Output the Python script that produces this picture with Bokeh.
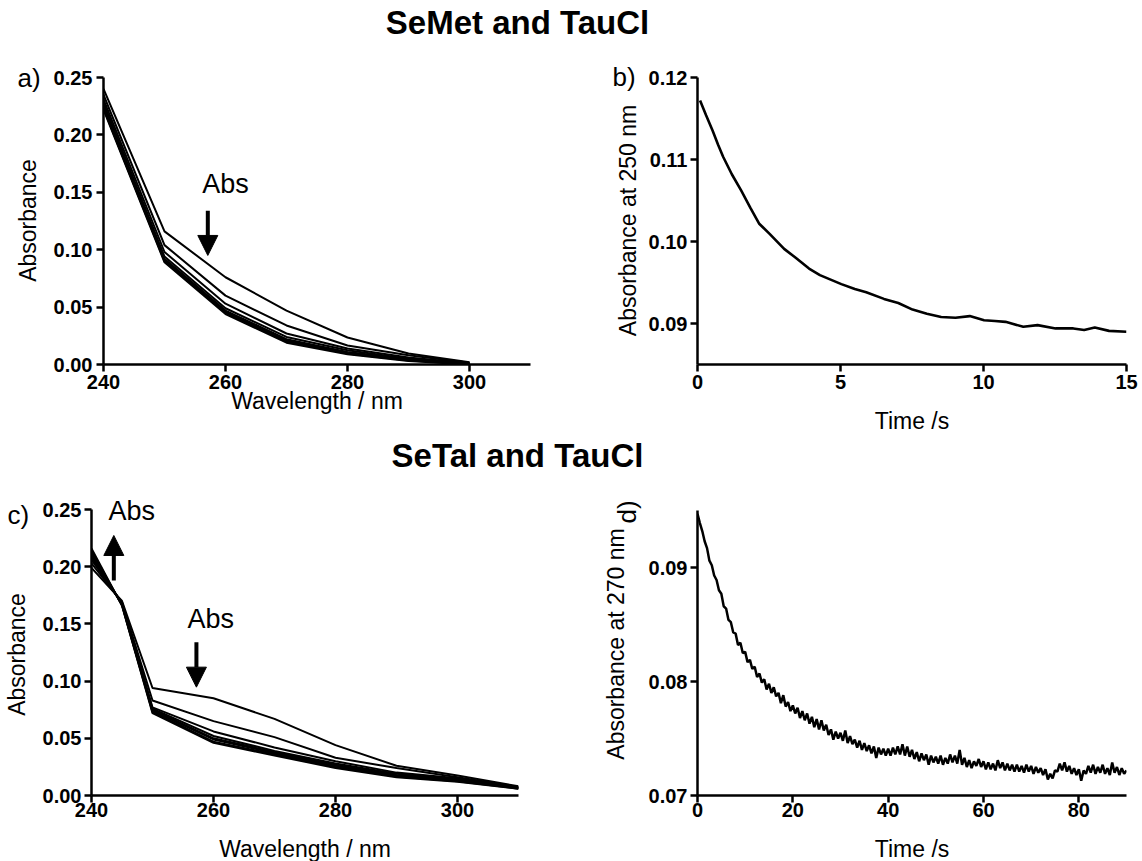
import math
from bokeh.plotting import figure
from bokeh.layouts import column, row
from bokeh.models import Range1d, FixedTicker, NumeralTickFormatter, Label, Arrow, NormalHead
from bokeh.embed import file_html
from bokeh.resources import INLINE
from bokeh.core.properties import value

FONT = "Liberation Sans"

# ---------------- data ----------------
title_top = "SeMet and TauCl"
title_bottom = "SeTal and TauCl"

# panel a: SeMet + TauCl spectra
wl_a = [240, 250, 260, 270, 280, 290, 300]
spec_a1 = [0.240, 0.116, 0.076, 0.047, 0.0235, 0.0096, 0.0020]
spec_a2 = [0.235, 0.104, 0.060, 0.034, 0.0165, 0.0080, 0.0015]
spec_a3 = [0.231, 0.098, 0.053, 0.027, 0.0140, 0.0060, 0.0010]
spec_a4 = [0.228, 0.094, 0.049, 0.024, 0.0125, 0.0050, 0.0010]
spec_a5 = [0.226, 0.092, 0.047, 0.022, 0.0110, 0.0045, 0.0008]
spec_a6 = [0.224, 0.091, 0.046, 0.021, 0.0100, 0.0040, 0.0005]
spec_a7 = [0.223, 0.090, 0.045, 0.020, 0.0095, 0.0035, 0.0003]
spec_a8 = [0.222, 0.089, 0.044, 0.019, 0.0090, 0.0030, 0.0000]
spectra_a = [spec_a1, spec_a2, spec_a3, spec_a4, spec_a5, spec_a6, spec_a7, spec_a8]

# panel b: absorbance at 250 nm vs time
t_b = [0.09, 0.30, 0.53, 0.72, 0.90, 1.20, 1.53, 1.85, 2.15, 2.53, 3.03, 3.40, 3.90,
       4.28, 5.03, 5.50, 5.90, 6.52, 7.02, 7.52, 8.02, 8.52, 9.02, 9.52, 10.02, 10.40,
       10.77, 11.39, 11.89, 12.52, 13.14, 13.52, 13.89, 14.39, 15.00]
abs_b = [0.1172, 0.1154, 0.1135, 0.1118, 0.1103, 0.1082, 0.1062, 0.1041, 0.1022, 0.1009,
         0.0991, 0.0981, 0.0967, 0.0959, 0.0948, 0.0942, 0.0938, 0.0930, 0.0925, 0.0917,
         0.0912, 0.0908, 0.0907, 0.0909, 0.0904, 0.0903, 0.0902, 0.0896, 0.0898, 0.0894,
         0.0894, 0.0892, 0.0895, 0.0891, 0.0890]

# panel c: SeTal + TauCl spectra
wl_c = [240, 245, 250, 260, 270, 280, 290, 300, 310]
spec_c1 = [0.199, 0.170, 0.094, 0.085, 0.067, 0.044, 0.026, 0.0175, 0.0080]
spec_c2 = [0.203, 0.169, 0.083, 0.065, 0.051, 0.033, 0.024, 0.0160, 0.0075]
spec_c3 = [0.206, 0.168, 0.077, 0.056, 0.042, 0.030, 0.020, 0.0150, 0.0070]
spec_c4 = [0.208, 0.168, 0.076, 0.052, 0.039, 0.028, 0.019, 0.0140, 0.0070]
spec_c5 = [0.210, 0.167, 0.075, 0.050, 0.038, 0.027, 0.018, 0.0135, 0.0065]
spec_c6 = [0.212, 0.167, 0.074, 0.049, 0.037, 0.026, 0.017, 0.0130, 0.0065]
spec_c7 = [0.214, 0.166, 0.073, 0.047, 0.036, 0.025, 0.0165, 0.0125, 0.0060]
spec_c8 = [0.216, 0.166, 0.072, 0.046, 0.035, 0.024, 0.016, 0.0120, 0.0060]
spectra_c = [spec_c1, spec_c2, spec_c3, spec_c4, spec_c5, spec_c6, spec_c7, spec_c8]

# panel d: absorbance at 270 nm, sampled every 0.5 s from 0 to 90 s
abs_d = [
    0.0947, 0.0939, 0.0932, 0.0923, 0.0917, 0.0906, 0.0902, 0.0893, 0.0889, 0.0880,
    0.0877, 0.0866, 0.0864, 0.0854, 0.0852, 0.0843, 0.0842, 0.0832, 0.0834, 0.0825,
    0.0826, 0.0817, 0.0819, 0.0811, 0.0813, 0.0804, 0.0807, 0.0799, 0.0802, 0.0793,
    0.0798, 0.0790, 0.0795, 0.0787, 0.0790, 0.0781, 0.0788, 0.0778, 0.0782, 0.0774,
    0.0779, 0.0772, 0.0777, 0.0768, 0.0774, 0.0766, 0.0772, 0.0763, 0.0769, 0.0760,
    0.0767, 0.0758, 0.0766, 0.0757, 0.0762, 0.0753, 0.0758, 0.0749, 0.0756, 0.0750,
    0.0755, 0.0748, 0.0757, 0.0746, 0.0752, 0.0745, 0.0749, 0.0742, 0.0748, 0.0740,
    0.0746, 0.0739, 0.0744, 0.0737, 0.0743, 0.0733, 0.0742, 0.0736, 0.0741, 0.0735,
    0.0741, 0.0735, 0.0742, 0.0736, 0.0743, 0.0736, 0.0745, 0.0735, 0.0743, 0.0734,
    0.0740, 0.0732, 0.0738, 0.0730, 0.0737, 0.0731, 0.0736, 0.0727, 0.0735, 0.0729,
    0.0734, 0.0728, 0.0735, 0.0727, 0.0733, 0.0728, 0.0736, 0.0729, 0.0735, 0.0728,
    0.0740, 0.0727, 0.0733, 0.0725, 0.0731, 0.0724, 0.0730, 0.0726, 0.0732, 0.0725,
    0.0730, 0.0723, 0.0729, 0.0723, 0.0728, 0.0722, 0.0731, 0.0724, 0.0729, 0.0722,
    0.0728, 0.0722, 0.0727, 0.0721, 0.0727, 0.0721, 0.0726, 0.0720, 0.0727, 0.0721,
    0.0726, 0.0719, 0.0725, 0.0720, 0.0724, 0.0718, 0.0723, 0.0714, 0.0719, 0.0715,
    0.0722, 0.0721, 0.0728, 0.0722, 0.0729, 0.0721, 0.0726, 0.0719, 0.0724, 0.0718,
    0.0723, 0.0713, 0.0722, 0.0719, 0.0726, 0.0720, 0.0727, 0.0719, 0.0725, 0.0720,
    0.0727, 0.0719, 0.0724, 0.0718, 0.0729, 0.0720, 0.0725, 0.0718, 0.0724, 0.0719,
    0.0722,
]
DT_D = 0.5
t_d = [i * DT_D for i in range(len(abs_d))]

ticks_wl = [240, 260, 280, 300]
ticks_abs = [0.00, 0.05, 0.10, 0.15, 0.20, 0.25]
ticks_tb = [0, 5, 10, 15]
ticks_ab = [0.09, 0.10, 0.11, 0.12]
ticks_td = [0, 20, 40, 60, 80]
ticks_ad = [0.07, 0.08, 0.09]

label_a = "a)"
label_b = "b)"
label_c = "c)"
label_d = "d)"
ylab_spec = "Absorbance"
ylab_b = "Absorbance at 250 nm"
ylab_d = "Absorbance at 270 nm"
xlab_wl = "Wavelength / nm"
xlab_t = "Time /s"


# ---------------- helpers ----------------
def style(p, lstand, bstand, blab_stand):
    p.outline_line_color = None
    p.background_fill_color = "white"
    p.border_fill_color = "white"
    p.xgrid.visible = False
    p.ygrid.visible = False
    for ax in p.axis:
        ax.axis_line_width = 2.5
        ax.axis_line_color = "black"
        ax.major_tick_line_width = 2.5
        ax.major_tick_line_color = "black"
        ax.major_tick_out = 7
        ax.major_tick_in = 0
        ax.minor_tick_line_color = None
        ax.major_label_text_font = FONT
        ax.major_label_text_font_style = "bold"
        ax.major_label_text_font_size = "20px"
        ax.major_label_text_color = "black"
        ax.axis_label_text_font = FONT
        ax.axis_label_text_font_style = "normal"
        ax.axis_label_text_font_size = "23px"
        ax.axis_label_text_color = "black"
    p.yaxis.major_label_standoff = lstand
    p.xaxis.major_label_standoff = bstand
    p.xaxis.axis_label_standoff = blab_stand


def abs_label(p, x, y, s):
    p.add_layout(Label(x=x, y=y, text=s, text_font=FONT, text_font_size="27px",
                       text_align="left", text_baseline="middle", text_color="black"))


def arrow(p, x, y0, y1):
    p.add_layout(Arrow(end=NormalHead(size=20, fill_color="black", line_color="black"),
                       x_start=x, y_start=y0, x_end=x, y_end=y1,
                       line_width=4, line_color="black"))


def strip(w, h):
    s = figure(width=w, height=h, x_range=Range1d(0, w), y_range=Range1d(0, h),
               x_axis_type=None, y_axis_type=None, min_border=0, frame_align=False,
               toolbar_location=None, output_backend="svg")
    s.outline_line_color = None
    s.grid.visible = False
    return s


def put(s, x, y_from_top, text, size, style_="normal", align="left", angle=0.0):
    h = s.height
    s.text(x=[x], y=[h - y_from_top], text=[text], text_align=align, text_baseline="middle",
           text_font=value(FONT), text_font_style=style_, text_font_size=size,
           text_color="black", angle=angle)


ROW1_TOP = 55
ROW1_H = 383
T2_H = 40
ROW2_TOP = ROW1_TOP + ROW1_H + T2_H  # 478
ROW2_H = 350
BOT_TOP = ROW2_TOP + ROW2_H  # 828
BOT_H = 861 - BOT_TOP

# ---------------- titles ----------------
t1 = strip(1142, ROW1_TOP)
put(t1, 517, 22, title_top, "33px", "bold", "center")
t2 = strip(1142, T2_H)
put(t2, 517, 17, title_bottom, "33px", "bold", "center")

# ---------------- panel a ----------------
sa = strip(48, ROW1_H)
put(sa, 17, 77 - ROW1_TOP, label_a, "26px")
put(sa, 27.5, 220 - ROW1_TOP, ylab_spec, "23px", align="center", angle=math.pi / 2)

pa = figure(width=552, height=ROW1_H, x_range=Range1d(240, 310), y_range=Range1d(0, 0.25),
            min_border_left=55, min_border_right=70, min_border_top=22,
            min_border_bottom=ROW1_H - 22 - 287, frame_align=False,
            toolbar_location=None, output_backend="svg")
for s in spectra_a:
    pa.line(wl_a, s, line_color="black", line_width=2)
pa.xaxis.ticker = FixedTicker(ticks=ticks_wl)
pa.yaxis.ticker = FixedTicker(ticks=ticks_abs)
pa.yaxis.formatter = NumeralTickFormatter(format="0.00")
pa.xaxis.axis_label = xlab_wl
style(pa, 4, 3, -4)
abs_label(pa, 256.2, 0.1572, "Abs")
arrow(pa, 257.1, 0.134, 0.095)

# ---------------- panel b ----------------
sb = strip(44, ROW1_H)
put(sb, 12, 76 - ROW1_TOP, label_b, "26px")
put(sb, 27, 220 - ROW1_TOP, ylab_b, "23px", align="center", angle=math.pi / 2)

pb = figure(width=498, height=ROW1_H, x_range=Range1d(0, 15), y_range=Range1d(0.085, 0.12),
            min_border_left=53, min_border_right=16, min_border_top=22,
            min_border_bottom=ROW1_H - 22 - 287, frame_align=False,
            toolbar_location=None, output_backend="svg")
pb.line(t_b, abs_b, line_color="black", line_width=2.6)
pb.xaxis.ticker = FixedTicker(ticks=ticks_tb)
pb.yaxis.ticker = FixedTicker(ticks=ticks_ab)
pb.yaxis.formatter = NumeralTickFormatter(format="0.00")
pb.xaxis.axis_label = xlab_t
style(pb, 3, 3, 16)

# ---------------- panel c ----------------
sc = strip(36, ROW2_H)
put(sc, 7, 514 - ROW2_TOP, label_c, "26px")
put(sc, 16.5, 654 - ROW2_TOP, ylab_spec, "23px", align="center", angle=math.pi / 2)

# frame reaches the top of the row so the "Abs" above 0.25 is not clipped;
# the y axis itself is bounded to 0 .. 0.25
C_FRAME_TOP, C_TICK_TOP, C_FRAME_BOTTOM = 478, 509, 795
c_ymax = 0.25 * (C_FRAME_BOTTOM - C_FRAME_TOP) / (C_FRAME_BOTTOM - C_TICK_TOP)
pc = figure(width=564, height=ROW2_H, x_range=Range1d(240, 310), y_range=Range1d(0, c_ymax),
            min_border_left=55, min_border_right=82, min_border_top=C_FRAME_TOP - ROW2_TOP,
            min_border_bottom=33, frame_align=False, toolbar_location=None,
            output_backend="svg")
for s in spectra_c:
    pc.line(wl_c, s, line_color="black", line_width=2)
pc.xaxis.ticker = FixedTicker(ticks=ticks_wl)
pc.yaxis.ticker = FixedTicker(ticks=ticks_abs)
pc.yaxis.formatter = NumeralTickFormatter(format="0.00")
pc.yaxis.bounds = (0, 0.25)
style(pc, 3, 0, 0)
abs_label(pc, 242.8, 0.2487, "Abs")
arrow(pc, 243.66, 0.188, 0.2273)
abs_label(pc, 255.74, 0.1543, "Abs")
arrow(pc, 257.2, 0.134, 0.0947)

# ---------------- panel d ----------------
sd = strip(44, ROW2_H)
put(sd, 26.5, 523 - ROW2_TOP, label_d, "26px", angle=math.pi / 2)
put(sd, 15.5, 643.5 - ROW2_TOP, ylab_d, "23px", align="center", angle=math.pi / 2)

pd_ = figure(width=498, height=ROW2_H, x_range=Range1d(0, 90), y_range=Range1d(0.07, 0.095),
             min_border_left=53, min_border_right=16, min_border_top=32, min_border_bottom=33,
             frame_align=False, toolbar_location=None, output_backend="svg")
pd_.line(t_d, abs_d, line_color="black", line_width=2.5)
pd_.xaxis.ticker = FixedTicker(ticks=ticks_td)
pd_.yaxis.ticker = FixedTicker(ticks=ticks_ad)
pd_.yaxis.formatter = NumeralTickFormatter(format="0.00")
style(pd_, 3, 0, 0)

# ---------------- bottom x-labels for c and d ----------------
sbot = strip(1142, BOT_H)
put(sbot, 304.5, 848 - BOT_TOP, xlab_wl, "23px", align="center")
put(sbot, 911.5, 848 - BOT_TOP, xlab_t, "23px", align="center")

layout = column(t1, row(sa, pa, sb, pb), t2, row(sc, pc, sd, pd_), sbot)
open("out.html", "w").write(file_html(layout, INLINE))
